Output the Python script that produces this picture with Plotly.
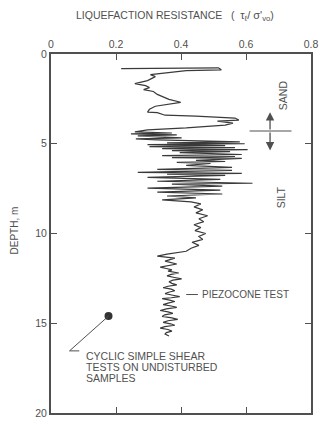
import plotly.graph_objects as go

# Piezocone trace: liquefaction resistance vs depth (m)
resistance = [0.216, 0.515, 0.524, 0.416, 0.306, 0.321, 0.297, 0.258, 0.291, 0.303,
              0.285, 0.315, 0.327, 0.342, 0.363, 0.399, 0.357, 0.321, 0.303, 0.297,
              0.327, 0.351, 0.446, 0.566, 0.578, 0.512, 0.560, 0.536, 0.416, 0.297,
              0.258, 0.372, 0.246, 0.387, 0.267, 0.402, 0.261, 0.327, 0.581, 0.357,
              0.596, 0.297, 0.536, 0.303, 0.566, 0.342, 0.605, 0.372, 0.551, 0.396,
              0.587, 0.342, 0.566, 0.372, 0.587, 0.446, 0.536, 0.387, 0.491, 0.416,
              0.557, 0.327, 0.557, 0.267, 0.587, 0.357, 0.536, 0.297, 0.521, 0.327,
              0.620, 0.372, 0.527, 0.297, 0.521, 0.327, 0.527, 0.357, 0.446, 0.342,
              0.431, 0.461, 0.440, 0.467, 0.446, 0.482, 0.455, 0.470, 0.440, 0.461,
              0.443, 0.476, 0.455, 0.467, 0.434, 0.455, 0.431, 0.416, 0.357, 0.327,
              0.381, 0.351, 0.387, 0.336, 0.355, 0.372, 0.360, 0.393, 0.370, 0.357,
              0.380, 0.402, 0.375, 0.363, 0.372, 0.387, 0.360, 0.345, 0.370, 0.381,
              0.362, 0.351, 0.375, 0.396, 0.370, 0.342, 0.365, 0.381, 0.360, 0.345,
              0.370, 0.387, 0.355, 0.336, 0.360, 0.375, 0.350, 0.342, 0.372, 0.390,
              0.360, 0.345, 0.368, 0.381, 0.350, 0.336, 0.360, 0.372, 0.355, 0.351,
              0.363]
depth = [0.82, 0.77, 0.88, 0.93, 1.15, 1.26, 1.48, 1.65, 1.76, 1.87,
         1.98, 2.09, 2.25, 2.36, 2.53, 2.69, 2.80, 2.91, 3.08, 3.24,
         3.27, 3.41, 3.46, 3.57, 3.68, 3.74, 3.85, 3.96, 4.12, 4.23,
         4.34, 4.40, 4.45, 4.51, 4.56, 4.67, 4.73, 4.78, 4.89, 4.95,
         5.00, 5.05, 5.11, 5.16, 5.22, 5.27, 5.33, 5.38, 5.44, 5.49,
         5.60, 5.66, 5.71, 5.77, 5.82, 5.93, 5.99, 6.04, 6.10, 6.21,
         6.32, 6.43, 6.48, 6.59, 6.65, 6.70, 6.76, 6.87, 6.98, 7.09,
         7.20, 7.25, 7.36, 7.47, 7.58, 7.69, 7.80, 7.91, 8.02, 8.13,
         8.24, 8.35, 8.52, 8.68, 8.85, 9.01, 9.18, 9.34, 9.51, 9.67,
         9.84, 10.00, 10.16, 10.33, 10.49, 10.66, 10.82, 10.99, 11.15, 11.26,
         11.37, 11.54, 11.70, 11.87, 11.95, 12.03, 12.10, 12.20, 12.28, 12.36,
         12.45, 12.53, 12.60, 12.69, 12.78, 12.86, 12.94, 13.02, 13.10, 13.19,
         13.27, 13.35, 13.44, 13.52, 13.58, 13.63, 13.71, 13.79, 13.88, 13.96,
         14.04, 14.12, 14.20, 14.29, 14.37, 14.45, 14.53, 14.62, 14.70, 14.78,
         14.86, 14.95, 15.03, 15.11, 15.19, 15.27, 15.35, 15.44, 15.52, 15.60,
         15.71]

# Cyclic simple shear test result
css_resistance = [0.177]
css_depth = [14.6]

x_tickvals = [0, 0.2, 0.4, 0.6, 0.8]
x_ticktext = ["0", "0.2", "0.4", "0.6", "0.8"]
y_tickvals = [0, 5, 10, 15, 20]
y_ticktext = ["0", "5", "10", "15", "20"]

INK = "#505050"
FONT = "Liberation Sans, Arial, sans-serif"
NB = "\u00a0"

fig = go.Figure()
fig.add_trace(go.Scatter(x=resistance, y=depth, mode="lines",
                         line=dict(color="#3a3a3a", width=1.2), showlegend=False))
fig.add_trace(go.Scatter(x=css_resistance, y=css_depth, mode="markers",
                         marker=dict(color="#333333", size=8), showlegend=False))

# leader lines
fig.add_shape(type="line", x0=0.416, y0=13.4, x1=0.452, y1=13.4,
              line=dict(color=INK, width=1))
fig.add_shape(type="line", x0=0.177, y0=14.6, x1=0.057, y1=16.54,
              line=dict(color=INK, width=1))
fig.add_shape(type="line", x0=0.057, y0=16.54, x1=0.087, y1=16.54,
              line=dict(color=INK, width=1))
# sand/silt boundary marker
fig.add_shape(type="line", x0=0.611, y0=4.29, x1=0.740, y1=4.29,
              line=dict(color=INK, width=1))
for head in (3.24, 5.38):
    fig.add_annotation(x=0.674, y=head, ax=0.674, ay=4.29, axref="x", ayref="y",
                       xref="x", yref="y", text="", showarrow=True,
                       arrowhead=2, arrowsize=1.3, arrowwidth=1.3, arrowcolor=INK)

txt = dict(family=FONT, size=10, color=INK)
fig.add_annotation(x=0.458, y=13.4, text="PIEZOCONE TEST", showarrow=False,
                   xanchor="left", yanchor="middle", font=txt)
for i, line in enumerate(["CYCLIC SIMPLE SHEAR", "TESTS ON UNDISTURBED", "SAMPLES"]):
    fig.add_annotation(x=0.100, y=16.8 + i * 0.63, text=line, showarrow=False,
                       xanchor="left", yanchor="middle",
                       font=dict(family=FONT, size=10.5, color=INK))
fig.add_annotation(x=0.716, y=2.31, text="SAND", showarrow=False, textangle=-90,
                   font=dict(family=FONT, size=10.5, color=INK))
fig.add_annotation(x=0.707, y=8.0, text="SILT", showarrow=False, textangle=-90,
                   font=dict(family=FONT, size=10.5, color=INK))

# title and y-axis label
title_text = ("LIQUEFACTION RESISTANCE" + NB * 3 + "(" + NB * 2 +
              "<span style='font-size:11px'>τ<sub>ℓ</sub>/" + NB +
              "σ'<sub>vo</sub></span>)")
fig.add_annotation(xref="paper", yref="paper", x=(75 - 51) / 267, y=(418 - 15) / 364,
                   text=title_text,
                   showarrow=False, xanchor="left", yanchor="middle",
                   font=dict(family=FONT, size=10.5, color=INK))
fig.add_annotation(xref="paper", yref="paper", x=(14 - 51) / 267, y=(418 - 233) / 364,
                   text="DEPTH, m", showarrow=False, textangle=-90,
                   xanchor="center", yanchor="middle",
                   font=dict(family=FONT, size=10, color=INK))

fig.update_layout(
    width=325, height=426,
    margin=dict(l=51, r=7, t=54, b=8),
    paper_bgcolor="white", plot_bgcolor="white",
    xaxis=dict(range=[0, 0.8], side="top", tickvals=x_tickvals, ticktext=x_ticktext,
               ticks="inside", ticklen=6, tickwidth=1.3, tickcolor=INK,
               showline=True, linewidth=2, linecolor=INK, mirror="ticks",
               showgrid=False, zeroline=False,
               tickfont=dict(family=FONT, size=10.5, color=INK)),
    yaxis=dict(range=[20, 0], tickvals=y_tickvals, ticktext=y_ticktext,
               ticks="inside", ticklen=6, tickwidth=1.3, tickcolor=INK,
               showline=True, linewidth=2, linecolor=INK, mirror="ticks",
               showgrid=False, zeroline=False,
               tickfont=dict(family=FONT, size=10.5, color=INK)),
)

fig.write_html("out.html")
